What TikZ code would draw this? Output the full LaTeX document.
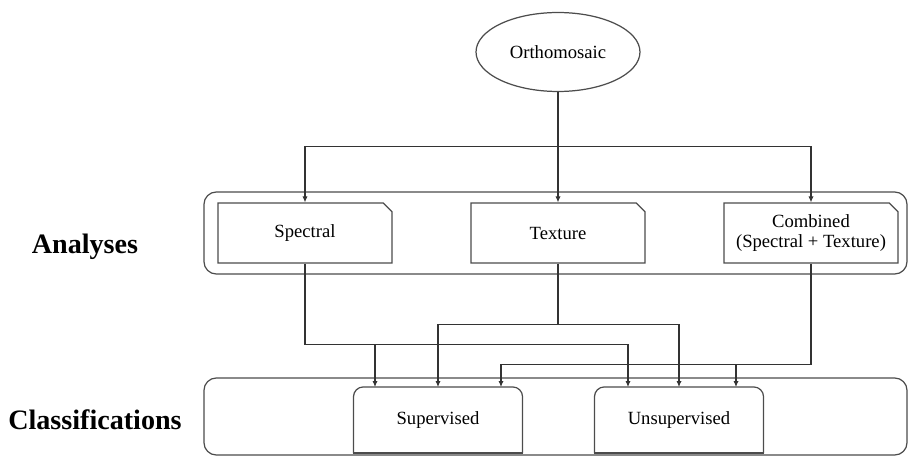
\documentclass[tikz,border=0pt]{standalone}
\usepackage{fontspec}
\setmainfont{Liberation Serif}
\usepackage{tikz}
\usetikzlibrary{calc, positioning, arrows.meta, shapes.geometric, shapes.misc}

\tikzset{
  ovalnode/.style={draw=black!70, ellipse, line width=0.7pt, minimum width=3.28cm, minimum height=1.58cm, inner sep=0pt},
  anabox/.style={draw=black!70, line width=0.7pt, chamfered rectangle, chamfered rectangle corners=north east,
    chamfered rectangle sep=2.5pt, minimum width=3.48cm, minimum height=1.2cm, align=center, inner sep=1pt},
  classbox/.style={minimum width=3.36cm, minimum height=1.3cm, inner sep=0pt},
  groupbox/.style={draw=black!70, line width=0.7pt, rounded corners=7pt},
  grouplabel/.style={font=\fontsize{16pt}{19pt}\selectfont\bfseries},
  arr/.style={-{Latex[length=3.4pt,width=3pt]}},
}

\begin{document}
\begin{tikzpicture}[x=0.02cm, y=-0.02cm, line width=0.6pt, draw=black!80, font=\fontsize{10.6pt}{11.5pt}\selectfont]
  \useasboundingbox (0,0) rectangle (910,456);
  % groups
  \draw[groupbox] (204,192) rectangle (907,274);
  \draw[groupbox] (204,378) rectangle (907,455);
  \node[grouplabel] (ana) at (85,247) {Analyses};
  \node[grouplabel] (cls) at (95,420) {Classifications};
  % input
  \node[ovalnode] (ortho) at (558,52) {Orthomosaic};
  % analyses
  \node[anabox] (spec) at (305,233) {Spectral};
  \node[anabox] (tex) at (558,233) {Texture};
  \node[anabox] (comb) at (811,233) {Combined\\(Spectral + Texture)};
  % classifications
  \node[classbox] (sup) at (438,420) {Supervised};
  \node[classbox] (uns) at (679,420) {Unsupervised};
  \foreach \n in {sup, uns} {
    \draw[draw=black!70, line width=0.7pt, rounded corners=5.5pt] (\n.south west) |- (\n.north) -| (\n.south east);
    \draw[draw=black!70, line width=0.7pt] (\n.south west) -- (\n.south east);
  }
  % orthomosaic -> analyses
  \coordinate (top) at ($(ortho.south)+(0,54)$);
  \draw[arr] (ortho.south) -- (tex.north);
  \draw[arr] (top) -| (spec.north);
  \draw[arr] (top) -| (comb.north);
  % analyses -> classifications
  \coordinate (sup1) at ($(sup.north)+(-63,0)$);
  \coordinate (sup3) at ($(sup.north)+(63,0)$);
  \coordinate (uns1) at ($(uns.north)+(-51,0)$);
  \coordinate (uns3) at ($(uns.north)+(57,0)$);
  \coordinate (sj) at ($(spec.south)+(0,81)$);
  \coordinate (tj) at ($(tex.south)+(0,61)$);
  \coordinate (cj) at ($(comb.south)+(0,101)$);
  \draw[arr] (spec.south) -- (sj) -| (uns1);
  \draw[arr] (sj -| sup1) -- (sup1);
  \draw (tex.south) -- (tj);
  \draw[arr] (tj) -| (sup.north);
  \draw[arr] (tj) -| (uns.north);
  \draw[arr] (comb.south) -- (cj) -| (sup3);
  \draw[arr] (cj -| uns3) -- (uns3);
\end{tikzpicture}
\end{document}
